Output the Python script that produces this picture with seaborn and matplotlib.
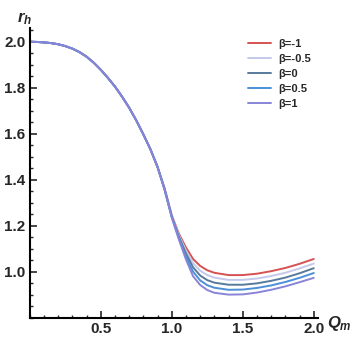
import numpy as np
import pandas as pd
import seaborn as sns
import matplotlib.pyplot as plt
from matplotlib.ticker import MultipleLocator

# Q_m grid and horizon radius
q_m = [0.0, 0.05, 0.1, 0.15, 0.2, 0.25, 0.3, 0.35, 0.4, 0.45, 0.5, 0.55,
       0.6, 0.65, 0.7, 0.75, 0.8, 0.85, 0.9, 0.95,
       1.0, 1.05, 1.1, 1.15, 1.2, 1.25, 1.3, 1.4, 1.5, 1.6, 1.7, 1.8, 1.9, 2.0]

# below Q_m ~ 0.95 all curves coincide
head = [2.000, 1.999, 1.997, 1.994, 1.989, 1.981, 1.970, 1.955, 1.935, 1.909,
        1.878, 1.843, 1.805, 1.761, 1.713, 1.658, 1.597, 1.532, 1.455]

r_beta_m1 = head + [1.362, 1.245, 1.165, 1.105, 1.055, 1.025, 1.006, 0.995, 0.985, 0.985, 0.991, 1.002, 1.016, 1.034, 1.055]
r_beta_m05 = head + [1.360, 1.242, 1.158, 1.092, 1.037, 1.004, 0.985, 0.974, 0.964, 0.964, 0.970, 0.981, 0.995, 1.014, 1.035]
r_beta_0 = head + [1.358, 1.240, 1.152, 1.079, 1.019, 0.983, 0.963, 0.952, 0.943, 0.943, 0.949, 0.960, 0.974, 0.993, 1.015]
r_beta_05 = head + [1.356, 1.238, 1.146, 1.066, 1.000, 0.962, 0.941, 0.930, 0.921, 0.922, 0.929, 0.940, 0.955, 0.973, 0.994]
r_beta_1 = head + [1.354, 1.235, 1.140, 1.053, 0.980, 0.942, 0.920, 0.908, 0.900, 0.901, 0.909, 0.921, 0.936, 0.954, 0.973]

labels = ["β=-1", "β=-0.5", "β=0", "β=0.5", "β=1"]
series = [r_beta_m1, r_beta_m05, r_beta_0, r_beta_05, r_beta_1]
colors = ["#d65252", "#c4c9ea", "#587a9b", "#4a8fd8", "#8884d8"]

df = pd.concat([pd.DataFrame({"Q": q_m, "r": r, "beta": lab})
                for r, lab in zip(series, labels)], ignore_index=True)

sns.set_theme(style="ticks")
plt.rcParams['font.family'] = ['Liberation Sans', 'DejaVu Sans']
plt.rcParams['font.weight'] = 'bold'
plt.rcParams['mathtext.fontset'] = 'custom'
plt.rcParams['mathtext.it'] = 'Liberation Sans:italic:bold'
plt.rcParams['mathtext.rm'] = 'Liberation Sans:bold'

fig = plt.figure(figsize=(3.54, 3.43), dpi=100)
ax = fig.add_axes([0.084, 0.074, 0.8144, 0.8446])

sns.lineplot(data=df, x="Q", y="r", hue="beta", hue_order=labels,
             palette=colors, linewidth=1.4, ax=ax, sort=False)
for line in ax.get_lines():
    line.set_solid_joinstyle("round")

ax.set_xlim(0, 2.03)
ax.set_ylim(0.8, 2.06)

ax.xaxis.set_minor_locator(MultipleLocator(0.1))
ax.yaxis.set_minor_locator(MultipleLocator(0.05))
ax.set_xticks([0.5, 1.0, 1.5, 2.0])
ax.set_xticklabels(["0.5", "1.0", "1.5", "2.0"])
ax.set_yticks([1.0, 1.2, 1.4, 1.6, 1.8, 2.0])
ax.set_yticklabels(["1.0", "1.2", "1.4", "1.6", "1.8", "2.0"])

ax.tick_params(which="major", direction="in", length=5, width=1.2, labelsize=11, pad=3)
ax.tick_params(which="minor", direction="in", length=2.5, width=1.0)
for lab in ax.get_xticklabels() + ax.get_yticklabels():
    lab.set_fontweight("bold")

for side in ["top", "right"]:
    ax.spines[side].set_visible(False)
for side in ["left", "bottom"]:
    ax.spines[side].set_linewidth(1.5)
    ax.spines[side].set_color("black")

ax.set_xlabel("")
ax.set_ylabel("")
fig.text(0.068, 0.945, r"$r_h$", ha="center", va="center", fontsize=12)
fig.text(0.925, 0.058, r"$Q_m$", ha="left", va="center", fontsize=12)

leg = ax.legend(loc="upper right", bbox_to_anchor=(1.01, 0.995), frameon=False,
                prop={"size": 8, "weight": "bold"}, handlelength=2.1,
                labelspacing=0.45, handletextpad=0.6)

fig.savefig("out.png", dpi=100)
